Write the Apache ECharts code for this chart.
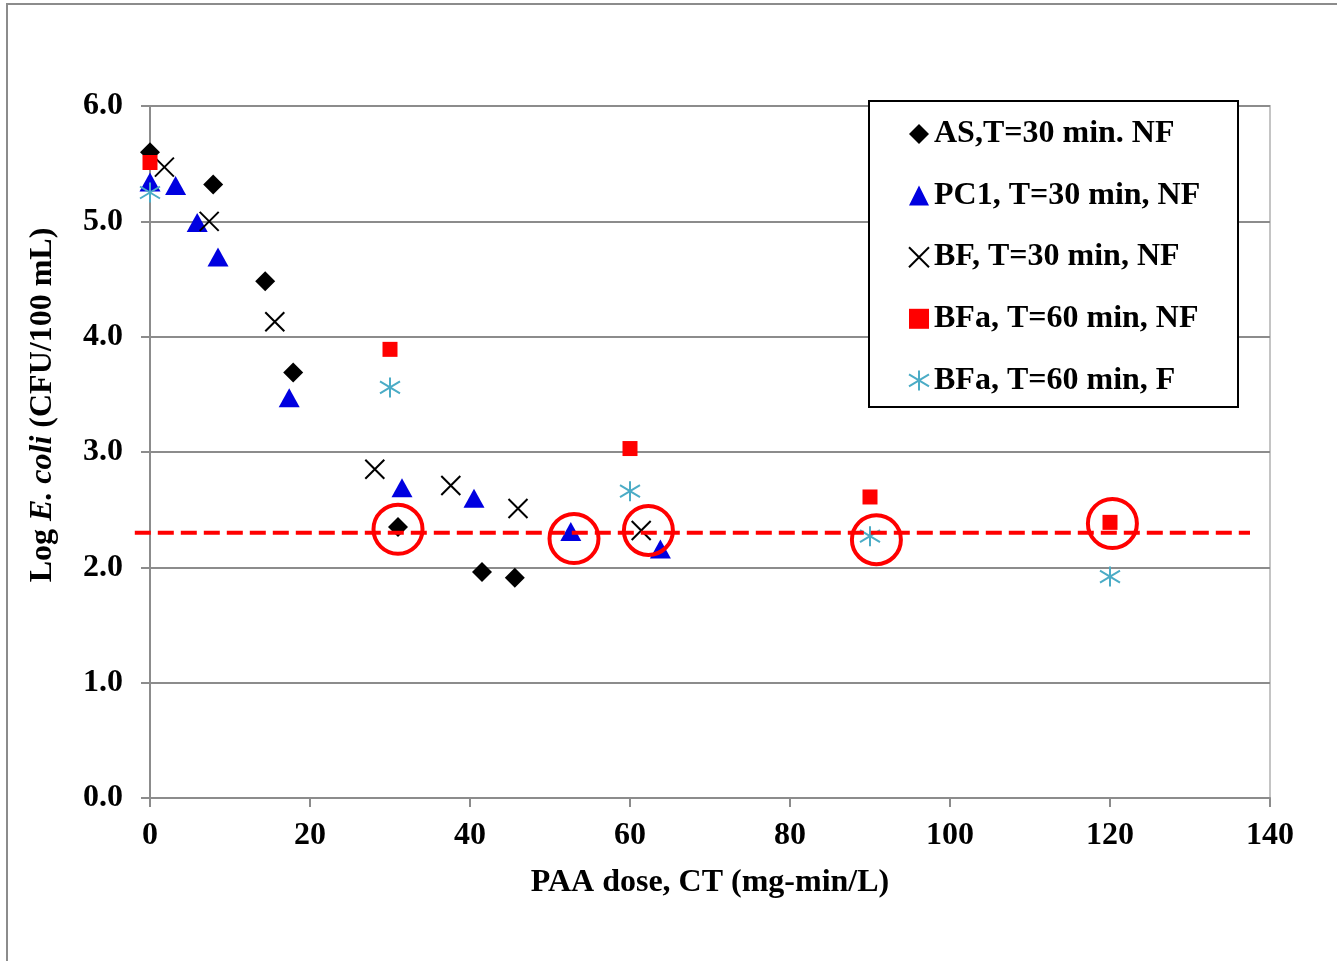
<!DOCTYPE html>
<html>
<head>
<meta charset="utf-8">
<script src="https://cdn.jsdelivr.net/npm/echarts@6/dist/echarts.min.js"></script>
<style>
html,body{margin:0;padding:0;background:#fff;}
#chart{width:1337px;height:961px;}
</style>
</head>
<body>
<div id="chart"></div>
<script>
// ---- Data (PAA dose CT, Log E. coli) ----
const seriesNames = ['AS,T=30 min. NF', 'PC1, T=30 min, NF', 'BF, T=30 min, NF', 'BFa, T=60 min, NF', 'BFa, T=60 min, F'];
const asData  = [[0,5.60],[7.9,5.32],[14.4,4.48],[17.9,3.69],[31,2.35],[41.5,1.96],[45.6,1.91]];
const pc1Data = [[0,5.34],[3.2,5.31],[5.9,4.99],[8.5,4.69],[17.4,3.47],[31.5,2.69],[40.5,2.60],[52.6,2.31],[63.8,2.16]];
const bfData  = [[1.8,5.47],[7.4,5.00],[15.6,4.13],[28.1,2.85],[37.6,2.71],[46,2.51],[61.4,2.32]];
const bfaNF   = [[0,5.51],[30,3.89],[60,3.03],[90,2.61],[120,2.39]];
const bfaF    = [[0,5.25],[30,3.56],[60,2.66],[90,2.27],[120,1.92]];
const circled = [[31,2.33],[53,2.25],[62.3,2.32],[90.8,2.24],[120.3,2.38]];
const limitLine = [[-1.9,137.5,2.30]];   // [xStart, xEnd, y]
const xTicks = [0,20,40,60,80,100,120,140];
const yTicks = [0,1,2,3,4,5,6];

const FONT = '"Liberation Serif","Times New Roman",serif';
const FS = 32;
const crossPath = 'path://M0 0L10 10M10 0L0 10';
const starPath = 'path://M5 0L5 10M0 2L10 8M0 8L10 2';

const chart = echarts.init(document.getElementById('chart'), null, {renderer:'canvas'});
const option = {
  animation:false,
  backgroundColor:'#fff',
  grid:{left:150,right:67,top:106,bottom:163,show:true,borderColor:'#c4c4c4',borderWidth:2,backgroundColor:'transparent'},
  xAxis:{
    type:'value',min:xTicks[0],max:xTicks[xTicks.length-1],interval:20,
    name:'PAA dose, CT (mg-min/L)',nameLocation:'middle',nameGap:69,
    nameTextStyle:{fontFamily:FONT,fontWeight:'bold',fontSize:FS,color:'#000'},
    axisLine:{show:true,onZero:false,lineStyle:{color:'#8c8c8c',width:2}},
    axisTick:{show:true,length:9,lineStyle:{color:'#8c8c8c',width:2}},
    axisLabel:{fontFamily:FONT,fontWeight:'bold',fontSize:FS,color:'#000',margin:22},
    splitLine:{show:false}
  },
  yAxis:{
    type:'value',min:yTicks[0],max:yTicks[yTicks.length-1],interval:1,
    axisLine:{show:true,onZero:false,lineStyle:{color:'#8c8c8c',width:2}},
    axisTick:{show:true,length:9,lineStyle:{color:'#8c8c8c',width:2}},
    axisLabel:{fontFamily:FONT,fontWeight:'bold',fontSize:FS,color:'#000',margin:27,formatter:v=>v.toFixed(1)},
    splitLine:{show:true,lineStyle:{color:'#8c8c8c',width:2}}
  },
  legend:{
    data:seriesNames,orient:'vertical',left:903,top:113,
    itemWidth:20,itemHeight:20,itemGap:29.6,
    textStyle:{fontFamily:FONT,fontWeight:'bold',fontSize:FS,color:'#000',lineHeight:30},
    selectedMode:false,z:10
  },
  graphic:[
    {type:'rect',shape:{x:7,y:4,width:1400,height:1000},style:{fill:'none',stroke:'#8c8c8c',lineWidth:2},z:-1,silent:true},
    {type:'rect',shape:{x:869,y:101,width:369,height:306},style:{fill:'#fff',stroke:'#000',lineWidth:2},z:5,silent:true},
    {type:'text',x:43,y:405,rotation:Math.PI/2,z:10,
      style:{text:'{a|Log }{b|E. coli}{a| (CFU/100 mL)}',align:'center',verticalAlign:'middle',
        rich:{a:{fontFamily:FONT,fontWeight:'bold',fontSize:FS,fill:'#000'},
              b:{fontFamily:FONT,fontWeight:'bold',fontStyle:'italic',fontSize:FS,fill:'#000'}}}}
  ],
  series:[
    {name:seriesNames[0],type:'scatter',data:asData,symbol:'diamond',symbolSize:20,itemStyle:{color:'#000',opacity:1},z:3},
    {name:seriesNames[1],type:'scatter',data:pc1Data,symbol:'triangle',symbolSize:[21,19],itemStyle:{color:'#0000e0',opacity:1},z:3},
    {name:seriesNames[2],type:'scatter',data:bfData,symbol:crossPath,symbolSize:19,itemStyle:{color:'#000',borderColor:'#000',borderWidth:2,opacity:1},z:3},
    {name:seriesNames[3],type:'scatter',data:bfaNF,symbol:'rect',symbolSize:15,itemStyle:{color:'#ff0000',opacity:1},z:3},
    {name:seriesNames[4],type:'scatter',data:bfaF,symbol:starPath,symbolSize:20,itemStyle:{color:'#4bacc6',borderColor:'#4bacc6',borderWidth:2,opacity:1},z:3},
    {name:'limit',type:'custom',data:limitLine,clip:false,z:4,silent:true,
      renderItem:function(params,api){
        const p1 = api.coord([api.value(0), api.value(2)]);
        const p2 = api.coord([api.value(1), api.value(2)]);
        return {type:'line',shape:{x1:p1[0],y1:p1[1],x2:p2[0],y2:p2[1]},
          style:{stroke:'#ff0000',lineWidth:4,lineDash:[16,7],fill:null}};
      }},
    {name:'circled',type:'scatter',data:circled,symbol:'circle',symbolSize:49,itemStyle:{color:'transparent',borderColor:'#ff0000',borderWidth:4,opacity:1},z:5,silent:true}
  ]
};
chart.setOption(option);
</script>
</body>
</html>
